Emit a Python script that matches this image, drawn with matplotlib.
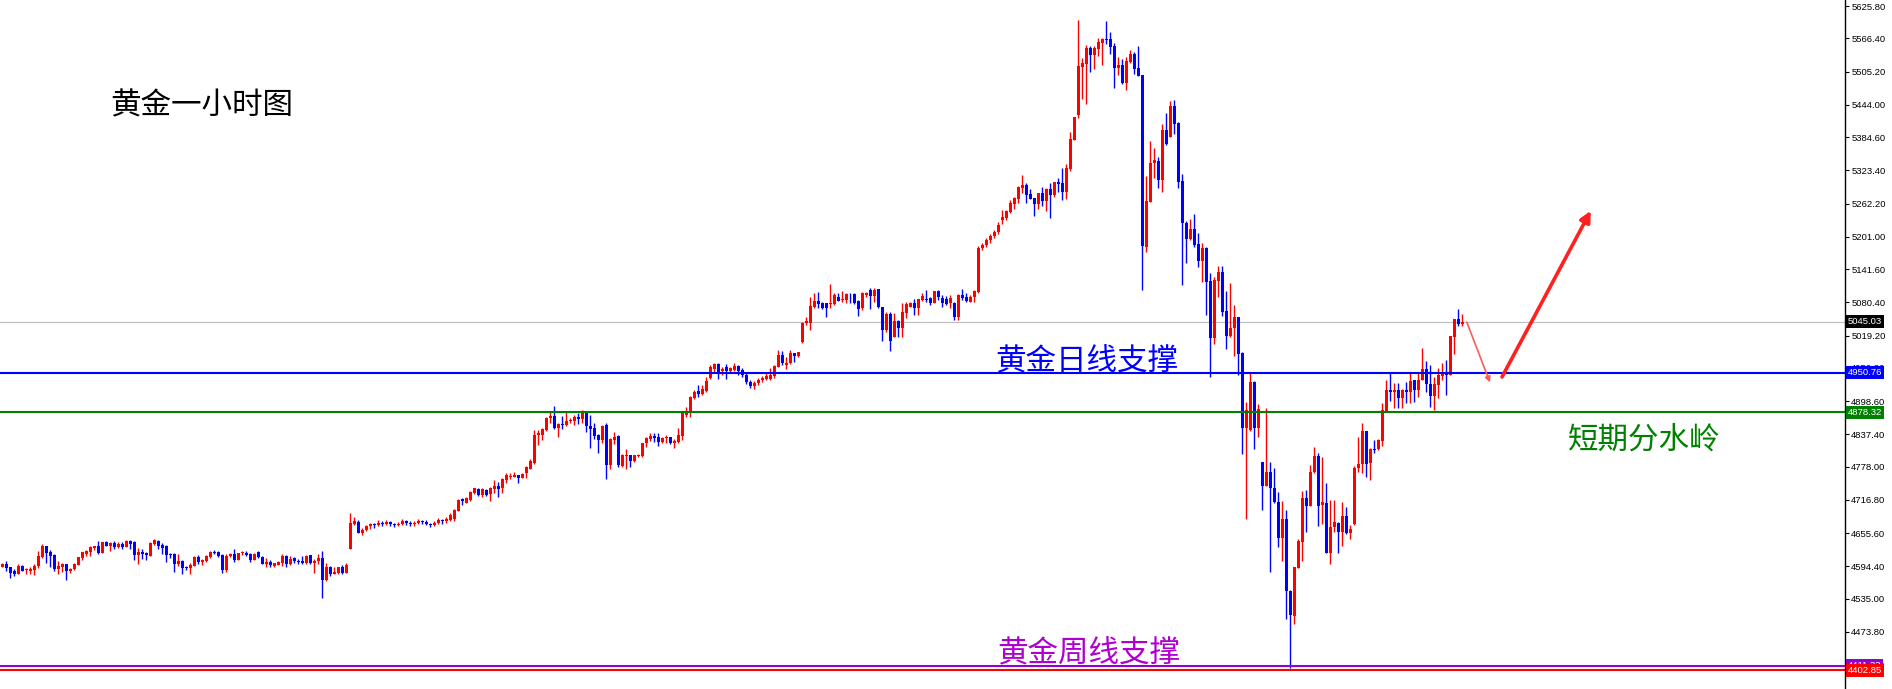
import matplotlib
matplotlib.use("Agg")
import matplotlib.pyplot as plt
import numpy as np

# Gold 1h candles (price units)
opens = [
    4593.8, 4599.3, 4593.2, 4586.4, 4580.9, 4595.0, 4587.0, 4585.8, 4587.6, 4595.6,
    4611.0, 4631.8, 4621.4, 4615.9, 4589.5, 4593.2, 4599.3, 4585.8, 4589.5, 4597.5,
    4610.4, 4617.7, 4620.8, 4628.8, 4631.2, 4619.6, 4639.2, 4631.8, 4637.4, 4630.6,
    4636.1, 4630.6, 4641.7, 4638.6, 4615.9, 4620.8, 4619.6, 4614.0, 4635.5, 4641.0,
    4634.3, 4631.8, 4617.7, 4617.7, 4599.3, 4604.2, 4593.2, 4591.9, 4595.6, 4611.0,
    4603.0, 4604.8, 4611.6, 4620.8, 4620.8, 4615.9, 4587.6, 4613.4, 4617.1, 4606.7,
    4618.3, 4619.6, 4617.1, 4606.7, 4620.8, 4611.6, 4599.3, 4603.0, 4595.6, 4597.5,
    4600.5, 4613.4, 4599.3, 4609.7, 4604.2, 4603.6, 4600.5, 4614.6, 4601.1, 4603.6,
    4609.1, 4569.2, 4593.8, 4580.9, 4582.1, 4593.2, 4582.7, 4626.3, 4672.3, 4676.6,
    4656.4, 4662.0, 4668.0, 4672.0, 4670.0, 4675.0, 4673.0, 4676.0, 4672.0, 4670.0,
    4673.0, 4677.0, 4675.0, 4672.0, 4674.0, 4678.0, 4676.0, 4673.0, 4670.0, 4674.0,
    4679.0, 4677.0, 4680.0, 4681.0, 4696.8, 4717.7, 4711.6, 4716.5, 4728.7, 4736.1,
    4725.7, 4734.9, 4727.5, 4736.7, 4742.3, 4738.0, 4753.3, 4759.4, 4759.4, 4762.5,
    4757.6, 4766.8, 4773.5, 4784.6, 4836.1, 4836.1, 4845.4, 4866.8, 4871.1, 4848.4,
    4856.4, 4854.6, 4861.3, 4862.5, 4869.9, 4866.2, 4879.1, 4853.3, 4849.6, 4836.1,
    4826.9, 4854.6, 4780.9, 4826.9, 4834.9, 4779.1, 4797.5, 4799.3, 4788.9, 4797.5,
    4797.5, 4822.0, 4828.8, 4834.3, 4831.8, 4823.9, 4830.0, 4833.1, 4820.8, 4823.9,
    4834.9, 4873.0, 4879.1, 4903.6, 4917.8, 4911.6, 4917.8, 4940.5, 4957.0, 4966.8,
    4954.0, 4961.9, 4954.0, 4955.8, 4963.2, 4955.8, 4946.6, 4934.0, 4926.0, 4932.0,
    4937.0, 4939.2, 4939.2, 4944.7, 4961.9, 4983.4, 4964.4, 4968.1, 4986.5, 4982.2,
    5006.7, 5041.7, 5042.9, 5072.4, 5082.8, 5079.7, 5078.5, 5076.7, 5076.7, 5090.8,
    5084.7, 5084.7, 5094.5, 5095.1, 5082.8, 5069.3, 5093.9, 5103.1, 5092.0, 5104.3,
    5071.2, 5029.4, 5058.9, 5017.2, 5046.0, 5032.5, 5061.3, 5072.4, 5078.5, 5069.3,
    5084.7, 5087.1, 5089.0, 5079.7, 5101.2, 5089.0, 5086.5, 5078.5, 5079.7, 5054.0,
    5093.9, 5090.8, 5081.6, 5089.6, 5098.8, 5180.4, 5186.0, 5195.0, 5202.5, 5210.0,
    5232.0, 5236.3, 5247.3, 5261.4, 5270.6, 5291.5, 5295.8, 5279.8, 5271.8, 5261.4,
    5281.1, 5266.9, 5289.0, 5278.6, 5301.9, 5300.1, 5283.5, 5325.2, 5379.2, 5425.3,
    5514.3, 5519.2, 5548.0, 5535.7, 5546.8, 5558.4, 5565.2, 5565.2, 5552.3, 5512.4,
    5517.3, 5484.8, 5523.5, 5537.6, 5511.2, 5498.9, 5182.9, 5265.7, 5336.3, 5340.6,
    5305.6, 5397.7, 5385.4, 5441.8, 5411.2, 5303.8, 5225.8, 5197.0, 5215.4, 5187.8,
    5157.1, 5181.0, 5119.6, 5014.1, 5120.3, 5135.6, 5064.4, 5019.0, 5032.5, 5052.7,
    4986.5, 4849.7, 4845.4, 4934.4, 4849.7, 4785.9, 4742.9, 4767.5, 4738.0, 4712.2,
    4647.2, 4681.5, 4549.6, 4503.6, 4591.9, 4639.8, 4719.6, 4706.1, 4767.5, 4797.5,
    4707.3, 4710.4, 4619.6, 4666.2, 4674.8, 4657.0, 4687.1, 4656.4, 4671.7, 4774.9,
    4782.1, 4843.5, 4784.0, 4810.3, 4809.7, 4825.7, 4879.1, 4919.0, 4914.7, 4919.0,
    4903.6, 4919.0, 4914.7, 4937.4, 4919.0, 4937.4, 4957.0, 4929.4, 4908.5, 4928.2,
    4945.4, 4949.7, 4946.6, 5017.2, 5049.7, 5039.9,
]
highs = [
    4601.1, 4603.6, 4593.2, 4588.9, 4598.7, 4596.2, 4590.7, 4593.2, 4598.1, 4622.6,
    4635.5, 4631.8, 4625.1, 4617.1, 4603.6, 4601.1, 4599.3, 4591.9, 4601.1, 4611.6,
    4620.8, 4625.1, 4632.4, 4631.8, 4641.7, 4639.2, 4641.0, 4639.8, 4641.7, 4639.2,
    4638.6, 4643.5, 4642.9, 4641.7, 4628.8, 4626.3, 4620.8, 4639.8, 4645.3, 4642.3,
    4636.7, 4633.1, 4619.6, 4618.9, 4617.7, 4606.7, 4595.0, 4601.1, 4613.4, 4615.3,
    4608.5, 4615.9, 4623.2, 4624.5, 4622.6, 4617.1, 4617.7, 4619.6, 4626.3, 4618.9,
    4622.6, 4622.0, 4618.3, 4618.3, 4622.0, 4612.8, 4609.1, 4605.4, 4601.1, 4604.2,
    4617.1, 4614.6, 4613.4, 4611.0, 4608.5, 4613.4, 4614.6, 4615.3, 4607.9, 4617.1,
    4623.2, 4601.1, 4595.6, 4593.8, 4593.8, 4596.9, 4600.5, 4692.6, 4685.2, 4679.7,
    4665.0, 4671.0, 4675.0, 4674.0, 4679.0, 4678.0, 4680.0, 4678.0, 4675.0, 4676.0,
    4681.0, 4679.0, 4677.0, 4677.0, 4682.0, 4680.0, 4679.0, 4675.0, 4677.0, 4683.0,
    4681.0, 4685.0, 4693.1, 4699.3, 4717.7, 4719.5, 4721.4, 4733.0, 4739.2, 4738.0,
    4738.0, 4736.1, 4741.0, 4753.3, 4750.2, 4756.4, 4765.6, 4766.8, 4768.0, 4762.5,
    4765.6, 4779.1, 4791.3, 4845.4, 4845.4, 4849.6, 4869.9, 4879.1, 4889.5, 4858.8,
    4871.1, 4879.1, 4866.8, 4873.0, 4876.0, 4882.2, 4880.9, 4873.0, 4858.8, 4837.4,
    4854.6, 4857.6, 4830.0, 4842.3, 4836.1, 4801.2, 4810.4, 4799.3, 4799.3, 4801.2,
    4822.0, 4833.1, 4839.2, 4839.2, 4840.4, 4833.1, 4836.1, 4833.1, 4828.2, 4848.4,
    4876.0, 4888.3, 4908.0, 4919.0, 4928.2, 4928.2, 4943.5, 4965.0, 4968.1, 4968.1,
    4961.9, 4966.2, 4961.9, 4968.1, 4965.0, 4958.8, 4949.6, 4937.0, 4935.0, 4941.0,
    4944.0, 4949.6, 4958.8, 4965.0, 4992.6, 4990.8, 4980.3, 4992.6, 4986.5, 4989.5,
    5044.8, 5054.0, 5089.6, 5096.9, 5100.0, 5081.6, 5079.7, 5114.1, 5098.2, 5096.9,
    5101.8, 5096.9, 5096.9, 5096.9, 5084.7, 5099.4, 5099.4, 5106.1, 5106.1, 5104.9,
    5072.4, 5063.2, 5063.2, 5060.1, 5047.8, 5079.7, 5081.6, 5081.6, 5085.9, 5085.9,
    5096.9, 5103.1, 5090.8, 5101.2, 5103.1, 5093.9, 5092.0, 5093.9, 5080.4, 5095.1,
    5104.3, 5096.9, 5093.9, 5103.1, 5184.1, 5190.0, 5198.0, 5206.0, 5214.0, 5228.0,
    5250.4, 5250.4, 5268.8, 5273.7, 5294.6, 5314.8, 5299.5, 5288.4, 5271.8, 5282.3,
    5292.1, 5290.3, 5299.5, 5301.9, 5309.3, 5327.1, 5334.4, 5393.4, 5422.2, 5600.2,
    5529.6, 5554.2, 5552.3, 5552.3, 5566.4, 5567.0, 5598.3, 5577.5, 5557.2, 5531.4,
    5527.8, 5532.7, 5545.0, 5541.9, 5552.3, 5498.9, 5313.0, 5377.4, 5365.1, 5348.0,
    5408.7, 5429.6, 5451.7, 5452.9, 5413.0, 5316.0, 5230.7, 5233.8, 5243.0, 5207.4,
    5189.0, 5182.9, 5135.0, 5126.4, 5147.3, 5147.3, 5101.8, 5116.6, 5075.5, 5052.7,
    4988.4, 4897.6, 4952.8, 4935.6, 4893.3, 4787.1, 4885.3, 4785.9, 4776.1, 4730.6,
    4714.7, 4698.1, 4550.8, 4593.8, 4644.1, 4733.1, 4734.9, 4781.0, 4813.5, 4803.7,
    4796.3, 4747.2, 4716.5, 4716.5, 4676.6, 4713.5, 4704.2, 4670.5, 4779.1, 4833.1,
    4857.6, 4843.5, 4811.6, 4826.9, 4828.2, 4895.7, 4937.4, 4951.5, 4931.3, 4931.3,
    4920.2, 4934.3, 4950.9, 4937.4, 4951.5, 4995.7, 4973.0, 4965.0, 4943.5, 4958.9,
    4968.1, 4974.2, 5018.4, 5049.7, 5068.1, 5058.9,
]
lows = [
    4593.2, 4585.8, 4573.5, 4577.2, 4580.3, 4585.2, 4580.9, 4580.9, 4579.1, 4591.9,
    4610.4, 4601.1, 4593.8, 4586.4, 4580.9, 4584.6, 4569.8, 4582.7, 4587.6, 4596.9,
    4606.1, 4614.0, 4614.0, 4625.1, 4617.1, 4618.9, 4631.8, 4623.2, 4626.9, 4627.5,
    4626.3, 4630.0, 4626.3, 4606.7, 4599.3, 4608.5, 4606.7, 4613.4, 4634.3, 4626.9,
    4617.7, 4603.0, 4610.4, 4584.6, 4595.6, 4580.9, 4587.0, 4580.9, 4595.0, 4598.1,
    4597.5, 4603.0, 4610.4, 4616.5, 4612.2, 4581.5, 4584.0, 4611.6, 4601.8, 4606.1,
    4614.6, 4614.0, 4601.8, 4605.4, 4609.1, 4598.7, 4593.2, 4593.2, 4593.8, 4596.2,
    4595.6, 4593.8, 4597.5, 4601.1, 4599.3, 4599.3, 4599.3, 4599.3, 4582.7, 4599.3,
    4536.7, 4567.4, 4577.2, 4580.9, 4580.9, 4580.9, 4582.7, 4626.3, 4670.5, 4655.2,
    4652.0, 4659.0, 4664.0, 4665.0, 4668.0, 4669.0, 4671.0, 4668.0, 4666.0, 4668.0,
    4671.0, 4671.0, 4668.0, 4669.0, 4672.0, 4673.0, 4670.0, 4666.0, 4668.0, 4672.0,
    4673.0, 4675.0, 4677.0, 4678.4, 4696.2, 4706.7, 4710.3, 4715.2, 4727.5, 4723.8,
    4722.6, 4723.8, 4715.2, 4728.7, 4722.6, 4728.7, 4747.2, 4754.5, 4758.2, 4748.4,
    4756.4, 4757.6, 4772.9, 4782.7, 4818.4, 4826.9, 4844.1, 4857.6, 4846.6, 4833.1,
    4847.8, 4853.3, 4858.8, 4855.2, 4857.0, 4858.8, 4841.0, 4812.2, 4828.2, 4803.6,
    4820.8, 4755.7, 4772.9, 4819.6, 4776.6, 4777.8, 4772.9, 4776.6, 4785.8, 4795.0,
    4796.3, 4814.7, 4825.7, 4822.6, 4815.9, 4820.8, 4820.8, 4819.6, 4811.6, 4820.8,
    4826.9, 4868.7, 4869.9, 4901.8, 4906.7, 4909.8, 4915.0, 4938.7, 4952.7, 4938.6,
    4946.6, 4938.6, 4949.6, 4954.0, 4946.6, 4943.5, 4930.0, 4922.0, 4921.0, 4929.0,
    4934.0, 4937.4, 4937.4, 4940.4, 4960.7, 4964.4, 4957.0, 4966.8, 4971.1, 4980.3,
    5004.9, 5038.6, 5029.4, 5069.3, 5069.3, 5068.1, 5054.0, 5069.3, 5075.5, 5082.2,
    5080.4, 5078.5, 5079.7, 5077.3, 5055.8, 5066.3, 5090.8, 5067.5, 5081.6, 5069.3,
    5009.8, 5026.4, 4991.4, 5015.9, 5017.2, 5017.2, 5050.9, 5071.2, 5057.0, 5057.0,
    5082.8, 5081.6, 5075.5, 5078.5, 5084.7, 5072.4, 5075.5, 5069.3, 5047.8, 5047.8,
    5084.7, 5081.6, 5080.4, 5080.4, 5097.0, 5176.0, 5182.0, 5190.0, 5198.0, 5206.0,
    5224.6, 5232.0, 5244.2, 5252.2, 5263.9, 5281.1, 5263.9, 5270.0, 5239.3, 5252.8,
    5257.7, 5249.1, 5235.6, 5274.9, 5283.5, 5268.8, 5270.6, 5322.2, 5379.2, 5419.1,
    5454.7, 5445.5, 5505.1, 5510.0, 5533.9, 5517.3, 5556.0, 5537.6, 5475.6, 5498.9,
    5482.3, 5471.3, 5520.4, 5500.8, 5497.1, 5103.1, 5173.7, 5265.7, 5308.7, 5291.5,
    5284.1, 5370.0, 5385.4, 5390.3, 5291.5, 5112.3, 5153.4, 5195.1, 5181.6, 5146.0,
    5118.4, 5057.1, 4943.5, 5003.0, 5090.8, 5055.8, 4993.8, 5017.2, 4981.6, 4946.6,
    4801.2, 4681.5, 4844.2, 4811.0, 4833.1, 4698.1, 4742.3, 4584.6, 4710.4, 4630.6,
    4604.8, 4498.0, 4406.6, 4487.6, 4591.3, 4604.8, 4658.2, 4705.5, 4766.8, 4669.3,
    4671.7, 4618.3, 4598.1, 4657.0, 4619.6, 4632.5, 4653.9, 4644.1, 4671.1, 4768.7,
    4765.6, 4759.4, 4753.3, 4802.4, 4808.5, 4816.5, 4877.9, 4899.3, 4885.2, 4885.2,
    4885.2, 4895.7, 4895.7, 4896.3, 4905.5, 4937.4, 4914.7, 4887.1, 4882.2, 4903.6,
    4937.4, 4909.8, 4946.6, 4985.3, 5036.8, 5037.4,
]
closes = [
    4599.3, 4591.9, 4582.7, 4580.3, 4595.0, 4586.4, 4588.9, 4590.1, 4595.6, 4613.4,
    4631.2, 4618.9, 4614.0, 4588.9, 4595.6, 4599.3, 4586.4, 4588.9, 4599.3, 4611.6,
    4620.2, 4623.2, 4630.6, 4631.2, 4618.9, 4639.2, 4632.4, 4638.0, 4630.6, 4636.1,
    4630.6, 4641.7, 4635.5, 4615.9, 4621.4, 4617.7, 4614.6, 4638.0, 4642.3, 4632.4,
    4627.5, 4615.9, 4615.9, 4599.3, 4604.2, 4591.9, 4591.3, 4597.5, 4612.2, 4602.4,
    4606.7, 4614.0, 4621.4, 4618.9, 4614.0, 4588.3, 4614.0, 4617.7, 4606.7, 4618.9,
    4620.2, 4615.9, 4606.7, 4617.1, 4611.0, 4599.3, 4602.4, 4597.5, 4599.9, 4603.0,
    4613.4, 4599.3, 4607.9, 4603.6, 4601.8, 4601.1, 4613.4, 4601.1, 4604.8, 4610.4,
    4569.2, 4593.8, 4580.9, 4584.0, 4592.6, 4582.7, 4597.5, 4674.1, 4677.8, 4656.4,
    4662.0, 4668.0, 4672.0, 4670.0, 4675.0, 4673.0, 4676.0, 4672.0, 4670.0, 4673.0,
    4677.0, 4675.0, 4672.0, 4674.0, 4678.0, 4676.0, 4673.0, 4670.0, 4674.0, 4679.0,
    4677.0, 4681.0, 4688.8, 4698.1, 4716.5, 4714.6, 4719.5, 4731.8, 4738.0, 4725.7,
    4736.1, 4725.7, 4739.2, 4742.3, 4736.7, 4755.1, 4762.5, 4761.3, 4762.5, 4757.6,
    4764.9, 4776.6, 4788.3, 4836.1, 4839.2, 4847.2, 4866.8, 4871.1, 4848.4, 4857.0,
    4855.2, 4861.9, 4863.8, 4869.9, 4866.2, 4879.1, 4853.3, 4847.2, 4834.9, 4826.9,
    4853.3, 4780.9, 4828.8, 4833.1, 4780.9, 4799.3, 4798.7, 4788.9, 4799.3, 4799.3,
    4822.0, 4830.0, 4834.3, 4831.2, 4823.9, 4831.2, 4831.8, 4820.8, 4825.7, 4836.1,
    4876.0, 4880.9, 4906.7, 4915.9, 4911.6, 4920.2, 4936.0, 4961.9, 4966.8, 4952.7,
    4957.6, 4954.0, 4958.8, 4963.8, 4954.0, 4946.6, 4934.3, 4926.0, 4932.0, 4938.0,
    4942.0, 4944.7, 4946.6, 4963.8, 4983.4, 4968.1, 4968.1, 4986.5, 4981.6, 4988.3,
    5041.7, 5046.0, 5073.6, 5083.4, 5077.3, 5070.5, 5070.5, 5079.7, 5093.2, 5083.4,
    5086.5, 5095.1, 5093.2, 5079.7, 5067.5, 5098.2, 5098.2, 5092.0, 5103.1, 5071.2,
    5029.4, 5058.3, 5009.8, 5046.0, 5033.7, 5063.2, 5076.7, 5079.7, 5069.3, 5085.9,
    5092.0, 5084.7, 5078.5, 5101.2, 5090.8, 5078.5, 5076.7, 5089.0, 5054.0, 5093.9,
    5089.0, 5082.8, 5089.6, 5101.2, 5180.4, 5186.0, 5195.0, 5202.5, 5210.0, 5223.0,
    5236.9, 5248.5, 5262.6, 5271.8, 5292.1, 5295.8, 5278.0, 5270.6, 5261.4, 5281.1,
    5266.9, 5289.0, 5278.6, 5301.9, 5298.9, 5283.5, 5327.1, 5380.5, 5421.0, 5515.5,
    5521.6, 5548.0, 5535.7, 5548.0, 5560.3, 5565.2, 5563.4, 5551.1, 5512.4, 5517.3,
    5484.8, 5524.7, 5537.6, 5510.6, 5497.7, 5184.7, 5266.9, 5336.3, 5342.4, 5305.6,
    5397.7, 5371.9, 5441.8, 5408.7, 5302.5, 5225.8, 5197.0, 5215.4, 5185.9, 5157.1,
    5181.0, 5118.4, 5014.1, 5121.5, 5135.6, 5063.2, 5019.0, 5033.7, 5052.7, 4985.2,
    4849.7, 4882.2, 4933.2, 4849.7, 4884.1, 4742.9, 4767.5, 4738.0, 4712.2, 4647.2,
    4681.5, 4549.6, 4504.8, 4593.8, 4641.0, 4719.6, 4706.1, 4768.1, 4797.5, 4706.1,
    4712.2, 4619.6, 4667.4, 4675.4, 4657.0, 4687.1, 4655.2, 4663.1, 4776.1, 4782.2,
    4843.5, 4782.1, 4809.7, 4808.5, 4826.9, 4882.2, 4919.0, 4914.7, 4919.0, 4903.6,
    4919.0, 4914.7, 4935.5, 4919.0, 4937.4, 4957.0, 4929.4, 4908.5, 4929.4, 4946.6,
    4947.8, 4946.6, 5018.4, 5049.7, 5040.5, 5045.0,
]

# right axis scale
tick_vals = [5625.80, 5566.40, 5505.20, 5444.00, 5384.60, 5323.40, 5262.20, 5201.00,
             5141.60, 5080.40, 5019.20, 4959.80, 4898.60, 4837.40, 4778.00, 4716.80,
             4655.60, 4594.40, 4535.00, 4473.80, 4414.40]

# horizontal levels
last_price = 5045.03
daily_support = 4950.76
watershed = 4878.32
weekly_support = 4411.33
weekly_low = 4402.85

# hand drawn arrows (bar index, price)
arrow_down = [(366.2, 5044.0), (372.0, 4933.0)]
arrow_up = [(375.0, 4943.0), (397.2, 5249.0)]

W, H = 1892, 689
fig = plt.figure(figsize=(W / 100, H / 100), dpi=100)
fig.patch.set_facecolor("white")
ax = fig.add_axes([0, 0, 1845 / W, 1])

o = np.array(opens)
hi = np.array(highs)
lo = np.array(lows)
c = np.array(closes)
x = np.arange(len(c))
up = c >= o
cols = np.where(up, "#ff0000", "#0000ff")

ax.vlines(x, lo, hi, colors=cols, lw=1.0, zorder=3)
body = np.maximum(np.abs(c - o), 1.2)
ax.bar(x, body, bottom=np.minimum(o, c), width=0.75, color=cols, lw=0, zorder=3)

ax.axhline(last_price, color="#c0c0c0", lw=0.9, zorder=2)
ax.axhline(daily_support, color="#0000ff", lw=1.5, zorder=4)
ax.axhline(watershed, color="#008000", lw=1.5, zorder=4)
ax.axhline(weekly_support, color="#9400d3", lw=1.5, zorder=4)
ax.axhline(weekly_low, color="#ff0000", lw=1.5, zorder=4)

ax.set_xlim(-0.5, 1845 / 4 - 0.5)
ax.set_ylim(4368.6, 5637.0)
ax.set_xticks([])
ax.yaxis.tick_right()
ax.set_yticks(tick_vals)
ax.set_yticklabels(["%.2f" % v for v in tick_vals], fontsize=6.8, family="Liberation Sans")
ax.tick_params(axis="y", direction="out", length=3, width=0.8, pad=1.5, colors="black")
for s in ["left", "top", "bottom"]:
    ax.spines[s].set_visible(False)
ax.spines["right"].set_color("black")
ax.spines["right"].set_linewidth(1.0)

# price boxes on the axis
for val, fc in [(last_price, "black"), (daily_support, "#0000ff"), (watershed, "#008000"),
                (weekly_support, "#9400d3"), (weekly_low, "#ff0000")]:
    ax.annotate("%.2f" % val, xy=(1.0, val), xycoords=("axes fraction", "data"),
                xytext=(2.2, 0), textcoords="offset points", ha="left", va="center",
                fontsize=6.8, family="Liberation Sans", color="white",
                annotation_clip=False, zorder=6,
                bbox=dict(boxstyle="square,pad=0.2", fc=fc, ec="none"))

cjk = ["Noto Sans CJK SC", "DejaVu Sans"]
fig.text(110 / W, 1 - 106 / H, "黄金一小时图", family=cjk, fontsize=22, color="black",
         ha="left", va="center")
fig.text(995 / W, 1 - 361 / H, "黄金日线支撑", family=cjk, fontsize=22, color="#0000ff",
         ha="left", va="center")
fig.text(997 / W, 1 - 653 / H, "黄金周线支撑", family=cjk, fontsize=22, color="#b000d0",
         ha="left", va="center")
fig.text(1568 / W, 1 - 440 / H, "短期分水岭", family=cjk, fontsize=22, color="#008000",
         ha="left", va="center")

ax.annotate("", xy=arrow_down[1], xytext=arrow_down[0],
            arrowprops=dict(arrowstyle="-|>", color="#ff5a5a", lw=1.2, mutation_scale=8,
                            shrinkA=0, shrinkB=0), zorder=5)
ax.annotate("", xy=arrow_up[1], xytext=arrow_up[0],
            arrowprops=dict(arrowstyle="-|>", color="#ff2020", lw=2.6, mutation_scale=16,
                            shrinkA=0, shrinkB=0), zorder=5)

fig.savefig("out.png", dpi=100)
